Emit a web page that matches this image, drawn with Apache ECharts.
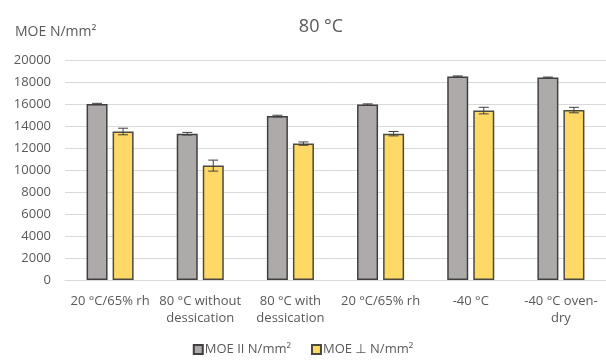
<!DOCTYPE html>
<html>
<head>
<meta charset="utf-8">
<script src="https://cdn.jsdelivr.net/npm/echarts@6/dist/echarts.min.js"></script>
<style>html,body{margin:0;padding:0;background:#fff}#c{width:606px;height:361px}</style>
</head>
<body>
<div id="c"></div>
<script>
var categories = ["20 °C/65% rh", "80 °C without\ndessication", "80 °C with\ndessication", "20 °C/65% rh", "-40 °C", "-40 °C oven-\ndry"];
var moeParallel = [16000, 13300, 14900, 15950, 18500, 18400];
var moeParallelErr = [60, 120, 80, 60, 50, 50];
var moePerp = [13500, 10400, 12400, 13300, 15400, 15450];
var moePerpErr = [300, 500, 150, 200, 300, 250];
var yTicks = [0, 2000, 4000, 6000, 8000, 10000, 12000, 14000, 16000, 18000, 20000];
var seriesNames = ["MOE II N/mm²", "MOE ⊥ N/mm²"];

var FONT = "'Open Sans', 'DejaVu Sans', sans-serif";
var TXT = '#595959';

function errSeries(vals, errs, offset) {
  return {
    type: 'custom',
    z: 10,
    silent: true,
    data: vals.map(function (v, i) { return [i, v - errs[i], v + errs[i]]; }),
    renderItem: function (params, api) {
      var lo = api.coord([api.value(0), api.value(1)]);
      var hi = api.coord([api.value(0), api.value(2)]);
      var x = lo[0] + offset;
      var cw = 5;
      var st = { stroke: '#404040', lineWidth: 1 };
      return {
        type: 'group',
        children: [
          { type: 'line', shape: { x1: x, y1: lo[1], x2: x, y2: hi[1] }, style: st },
          { type: 'line', shape: { x1: x - cw, y1: lo[1], x2: x + cw, y2: lo[1] }, style: st },
          { type: 'line', shape: { x1: x - cw, y1: hi[1], x2: x + cw, y2: hi[1] }, style: st }
        ]
      };
    },
    encode: { x: 0, y: [1, 2] }
  };
}

var chart = echarts.init(document.getElementById('c'), null, { renderer: 'canvas' });
chart.setOption({
  animation: false,
  textStyle: { fontFamily: FONT },
  title: [
    { text: '80 °C', left: 316, top: 13, textAlign: 'center',
      textStyle: { fontFamily: FONT, fontSize: 18, fontWeight: 'normal', color: TXT } },
    { text: 'MOE N/mm²', left: 10, top: 20,
      textStyle: { fontFamily: FONT, fontSize: 14, fontWeight: 'normal', color: TXT } }
  ],
  legend: {
    bottom: 0,
    left: 'center',
    icon: 'rect',
    itemWidth: 9,
    itemHeight: 9,
    itemGap: 20,
    data: seriesNames,
    textStyle: { fontFamily: FONT, fontSize: 13, color: TXT, padding: [0, 0, 0, -3] }
  },
  grid: { left: 65, right: -9, top: 60, bottom: 81, containLabel: false },
  xAxis: {
    type: 'category',
    data: categories,
    axisLine: { show: true, lineStyle: { color: '#d9d9d9', width: 1 } },
    axisTick: { show: false },
    axisLabel: { color: TXT, fontFamily: FONT, fontSize: 13, margin: 13, lineHeight: 17, interval: 0 }
  },
  yAxis: {
    type: 'value',
    min: yTicks[0],
    max: yTicks[yTicks.length - 1],
    interval: 2000,
    axisLine: { show: false },
    axisTick: { show: false },
    splitLine: { lineStyle: { color: '#d9d9d9', width: 1 } },
    axisLabel: { color: TXT, fontFamily: FONT, fontSize: 13, margin: 14,
      formatter: function (v) { return String(v); } }
  },
  series: [
    {
      name: seriesNames[0], type: 'bar', data: moeParallel, barWidth: 21, barGap: '24%',
      itemStyle: { color: '#aeaaaa', borderColor: '#404040', borderWidth: 1.5 }
    },
    {
      name: seriesNames[1], type: 'bar', data: moePerp, barWidth: 21, barGap: '24%',
      itemStyle: { color: '#ffd966', borderColor: '#4a4a40', borderWidth: 1.5 }
    },
    errSeries(moeParallel, moeParallelErr, -13),
    errSeries(moePerp, moePerpErr, 13)
  ]
});
</script>
</body>
</html>
